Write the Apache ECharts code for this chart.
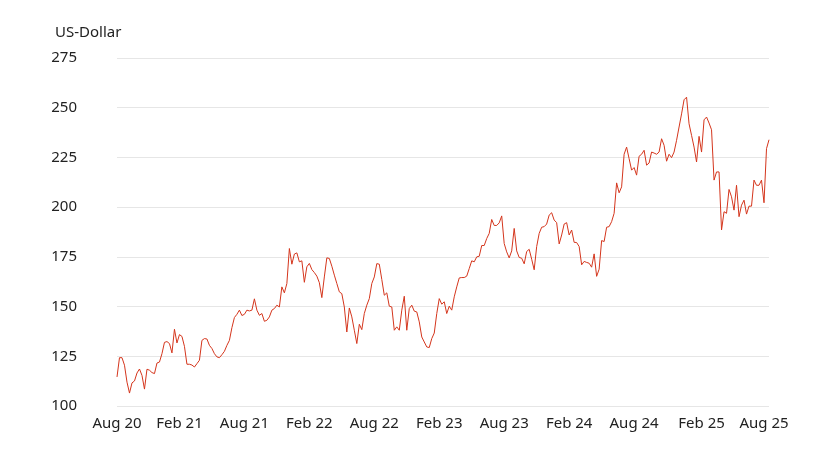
<!DOCTYPE html>
<html><head><meta charset="utf-8">
<script src="https://cdn.jsdelivr.net/npm/echarts@6/dist/echarts.min.js"></script>
<style>html,body{margin:0;padding:0;background:#fff}#c{width:840px;height:455px}</style>
</head><body><div id="c"></div>
<script>
const startDate = '2020-08-14';
const monthNames = ['Jan','Feb','Mar','Apr','May','Jun','Jul','Aug','Sep','Oct','Nov','Dec'];
const yTicks = [100,125,150,175,200,225,250,275];
const values = [
114.6,124.3,124.3,120.5,112,106.5,111.6,112.6,116.6,118.6,115.4,108.5,118.5,118,116.8,116.3,121.6,122.1,126.3,132,132.4,131.4,126.7,138.6,131.7,135.9,135,130,121,121,120.6,119.6,121.3,123,133,133.9,133.7,130.5,128.9,126.3,124.7,124.3,125.8,127.5,130.5,133,139.4,144.5,146.1,148.2,145.5,146.1,148.2,147.8,148.2,153.9,148.2,145.6,146.5,142.6,143.1,144.8,148.2,149,150.7,149.8,159.9,156.9,161.6,179.2,171.3,176.4,177,172.5,173,162.2,170,171.7,168.6,167.1,165.3,162,
154.5,164.9,174.5,174.2,170.3,165.8,161.6,157.4,156.5,149.8,137.2,149.3,144.8,138.1,131.4,141.1,138.4,146.5,150.7,154,161.6,164.9,171.6,171.3,163.6,155.7,156.9,150.2,149.8,138.1,139.8,138.1,148.2,155.2,138.1,149,150.7,147.7,147.3,142.3,134.7,132.2,129.7,129.4,133.9,136.7,146.5,154,151.2,152.4,146.5,150.2,148.2,154.9,159.9,164.4,164.6,164.6,165.3,169.1,173,172.5,175,175.3,180.7,180.7,184.2,186.8,193.8,190.8,190.8,192.1,195.6,181.7,177.5,174.5,178,189.3,178,174.7,
174.3,171.5,177.7,178.8,173.8,168.5,180.2,186.8,189.9,190.2,191.5,196,197.2,193.5,192.2,181.5,186,191.5,192.2,186,188.5,182.3,182.2,180.2,171,172.7,172.2,171.8,169.8,176.5,165.2,168.8,183.2,182.7,189.9,190.2,192.7,196.9,212.2,207.2,210.2,226.6,230.2,224.4,218.6,219.9,216.1,225.6,226.6,228.6,221.1,222.2,227.7,227.2,226.6,227.7,234.4,231.1,223.1,226.6,224.9,227.7,233.6,240.3,246.9,254,255.3,241.9,236.1,230.2,222.7,235.6,227.7,243.9,245.3,242.3,238.9,213.6,217.7,217.7,188.5,197.7,196.9,208.9,205.2,198.5,211,195.2,201,203.5,196.5,200.5,200.5,213.6,211,211,213.6,202.2,229.4,233.9
];
const dates = values.map((v,i)=>{const d=new Date(startDate+'T00:00:00Z');d.setUTCDate(d.getUTCDate()+7*i);return d.toISOString().slice(0,10);});
function isLabel(i,s){if(i===0)return true;const m=+s.slice(5,7),d=+s.slice(8,10);return (m===2||m===8)&&d<=7&&i>4;}
const chart = echarts.init(document.getElementById('c'));
chart.setOption({
  animation:false,
  title:{text:'US-Dollar',left:50,top:20,textStyle:{fontFamily:'Noto Sans',fontSize:15,fontWeight:'normal',color:'#222'}},
  grid:{left:117,right:71,top:58,bottom:49},
  xAxis:{type:'category',data:dates,boundaryGap:false,
    axisLine:{show:false},axisTick:{show:false},
    axisLabel:{interval:(i,v)=>isLabel(i,v),formatter:v=>monthNames[+v.slice(5,7)-1]+' '+v.slice(2,4),
      fontFamily:'Noto Sans',fontSize:15,color:'#222',margin:10}},
  yAxis:{type:'value',min:yTicks[0],max:yTicks[yTicks.length-1],interval:25,
    axisLine:{show:false},axisTick:{show:false},
    axisLabel:{fontFamily:'Noto Sans',fontSize:15,color:'#222',margin:40},
    splitLine:{lineStyle:{color:'#e6e6e6'}}},
  series:[{type:'line',data:values,symbol:'none',lineStyle:{color:'#d4351c',width:1}}]
});
</script></body></html>
